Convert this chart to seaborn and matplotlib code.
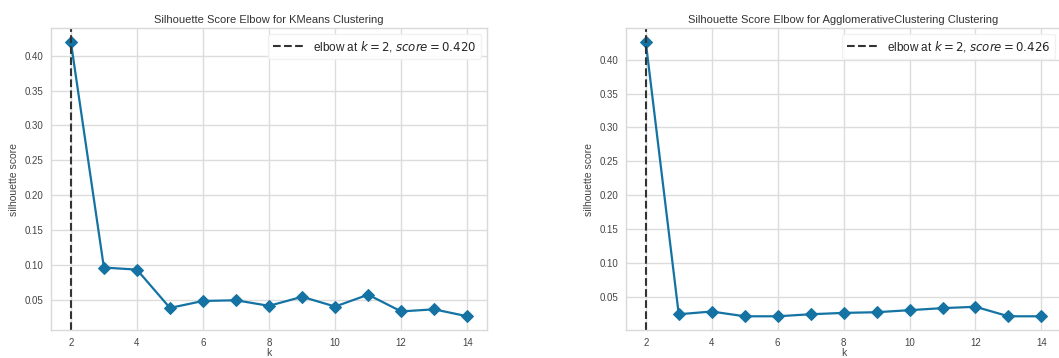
import pandas as pd
import seaborn as sns
import matplotlib.pyplot as plt

k_values = [2, 3, 4, 5, 6, 7, 8, 9, 10, 11, 12, 13, 14]
kmeans_scores = [0.420, 0.096, 0.093, 0.038, 0.048, 0.049, 0.041, 0.054,
                 0.040, 0.057, 0.033, 0.036, 0.026]
agglo_scores = [0.426, 0.025, 0.029, 0.022, 0.022, 0.025, 0.027, 0.028,
                0.031, 0.034, 0.036, 0.022, 0.022]
model_names = ["KMeans", "AgglomerativeClustering"]

sns.set_style("whitegrid")
plt.rcParams["font.family"] = ["Liberation Sans", "DejaVu Sans"]
plt.rcParams["axes.edgecolor"] = "#d9d9d9"
plt.rcParams["grid.color"] = "#dcdcdc"

LINE_COLOR = "#1473a3"

fig = plt.figure(figsize=(10.59, 3.58), dpi=100)
positions = [[0.0482, 0.0782, 0.4117, 0.843],
             [0.5911, 0.0782, 0.4110, 0.843]]


def elbow_plot(ax, scores, name):
    df = pd.DataFrame({"k": k_values, "score": scores})
    sns.lineplot(x="k", y="score", data=df, ax=ax, color=LINE_COLOR,
                 marker="D", markersize=6, linewidth=1.6,
                 markeredgecolor=LINE_COLOR)
    best = df["score"].idxmax()
    k_best = df.loc[best, "k"]
    s_best = df.loc[best, "score"]
    label = "elbow at $k = {}$, $score = {:0.3f}$".format(k_best, s_best)
    ax.axvline(k_best, color="#333333", linestyle="--", linewidth=1.5,
               label=label)
    ax.set_title("Silhouette Score Elbow for {} Clustering".format(name),
                 fontsize=8, color="#333333", pad=4)
    ax.set_xlabel("k", fontsize=7.5, color="#444444", labelpad=0)
    ax.set_ylabel("silhouette score", fontsize=7.5, color="#444444",
                  labelpad=4)
    ax.set_xticks([2, 4, 6, 8, 10, 12, 14])
    ax.set_yticks([0.05, 0.10, 0.15, 0.20, 0.25, 0.30, 0.35, 0.40])
    ax.tick_params(labelsize=7, colors="#444444", pad=2)
    ax.grid(True, linewidth=1)
    ax.legend(loc="upper right", fontsize=8.5, frameon=True,
              facecolor="white", edgecolor="#f0f0f0", framealpha=0.9,
              handlelength=2.6)
    for spine in ax.spines.values():
        spine.set_linewidth(1)


for pos, scores, name in zip(positions, [kmeans_scores, agglo_scores], model_names):
    ax = fig.add_axes(pos)
    elbow_plot(ax, scores, name)

fig.savefig("out.png", dpi=100)
